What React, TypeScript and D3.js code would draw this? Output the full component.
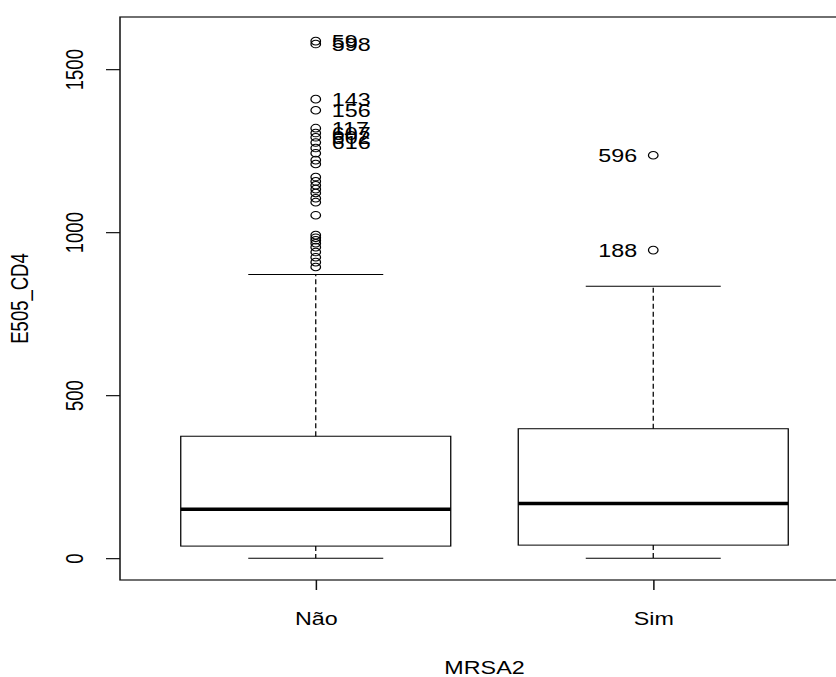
import React, { useEffect, useRef } from "react";
import * as d3 from "d3";

// groups on the x axis
const groups = ["Não", "Sim"];

// box statistics per group (E505_CD4)
const lowerWhisker = [0, 0];
const q1 = [37, 40];
const medians = [150, 168];
const q3 = [374, 397];
const upperWhisker = [870, 834];

// outliers, the labelled ones first
const outliersNao = [
	1586, 1577, 1408, 1374, 1319, 1304, 1291, 1275, 1258, 1242, 1221, 1209, 1169, 1156, 1144,
	1132, 1120, 1104, 1092, 1052, 991, 983, 975, 966, 954, 939, 923, 908, 893,
];
const labelsNao = ["59", "598", "143", "156", "117", "607", "602", "616"];
const outliersSim = [1236, 945];
const labelsSim = ["596", "188"];

const yTicks = [0, 500, 1000, 1500];
const yDomain = [-67, 1660];

const W = 836;
const H = 677;
const SX = 1.26; // the original picture is stretched sideways
const FONT = "'Liberation Sans', Arial, sans-serif";
const FS = 18.5;

const App = () => {
	const svgRef = useRef(null);

	useEffect(() => {
		const svg = d3.select(svgRef.current);
		svg.selectAll("*").remove();

		const x = d3.scaleLinear().domain([0.42, 2.58]).range([120 / SX, 849 / SX]);
		const y = d3.scaleLinear().domain(yDomain).range([580, 17]);
		const tickLen = 14 / SX;

		// plot frame
		svg
			.append("rect")
			.attr("x", x(0.42))
			.attr("y", y(yDomain[1]))
			.attr("width", x(2.58) - x(0.42))
			.attr("height", y(yDomain[0]) - y(yDomain[1]))
			.attr("fill", "none")
			.attr("stroke", "#111")
			.attr("stroke-width", 1.2);

		// y axis
		const yAxis = svg
			.append("g")
			.attr("transform", `translate(${x(0.42)},0)`)
			.call(d3.axisLeft(y).tickValues(yTicks).tickSize(tickLen).tickFormat(d3.format("d")));
		yAxis.select(".domain").remove();
		yAxis.selectAll("line").attr("stroke", "#111").attr("stroke-width", 1.2);
		yAxis
			.selectAll("text")
			.attr("x", null)
			.attr("dy", null)
			.attr("text-anchor", "middle")
			.attr("transform", "translate(-29,0) rotate(-90)")
			.attr("fill", "#000")
			.style("font-family", FONT)
			.style("font-size", `${FS}px`);

		// x axis
		const xAxis = svg
			.append("g")
			.attr("transform", `translate(0,${y(yDomain[0])})`)
			.call(
				d3
					.axisBottom(x)
					.tickValues([1, 2])
					.tickSize(10)
					.tickFormat((d) => groups[d - 1])
			);
		xAxis.select(".domain").remove();
		xAxis.selectAll("line").attr("stroke", "#111").attr("stroke-width", 1.2);
		xAxis
			.selectAll("text")
			.attr("y", 45)
			.attr("dy", null)
			.attr("fill", "#000")
			.style("font-family", FONT)
			.style("font-size", `${FS}px`);

		// axis titles
		svg
			.append("text")
			.attr("x", (x(0.42) + x(2.58)) / 2)
			.attr("y", 674)
			.attr("text-anchor", "middle")
			.style("font-family", FONT)
			.style("font-size", `${FS}px`)
			.text("MRSA2");
		svg
			.append("text")
			.attr("transform", `translate(22.5,${(y(yDomain[0]) + y(yDomain[1])) / 2}) rotate(-90)`)
			.attr("text-anchor", "middle")
			.style("font-family", FONT)
			.style("font-size", `${FS}px`)
			.text("E505_CD4");

		// boxes
		const box = svg.append("g");
		groups.forEach((g, i) => {
			const cx = x(i + 1);
			const bl = x(i + 1 - 0.4);
			const br = x(i + 1 + 0.4);
			const sl = x(i + 1 - 0.2);
			const sr = x(i + 1 + 0.2);

			box
				.append("line")
				.attr("x1", cx)
				.attr("x2", cx)
				.attr("y1", y(q3[i]))
				.attr("y2", y(upperWhisker[i]))
				.attr("stroke", "#000")
				.attr("stroke-dasharray", "5,3");
			box
				.append("line")
				.attr("x1", cx)
				.attr("x2", cx)
				.attr("y1", y(q1[i]))
				.attr("y2", y(lowerWhisker[i]))
				.attr("stroke", "#000")
				.attr("stroke-dasharray", "5,3");
			[upperWhisker[i], lowerWhisker[i]].forEach((v) => {
				box
					.append("line")
					.attr("x1", sl)
					.attr("x2", sr)
					.attr("y1", y(v))
					.attr("y2", y(v))
					.attr("stroke", "#000");
			});
			box
				.append("rect")
				.attr("x", bl)
				.attr("y", y(q3[i]))
				.attr("width", br - bl)
				.attr("height", y(q1[i]) - y(q3[i]))
				.attr("fill", "none")
				.attr("stroke", "#000");
			box
				.append("line")
				.attr("x1", bl)
				.attr("x2", br)
				.attr("y1", y(medians[i]))
				.attr("y2", y(medians[i]))
				.attr("stroke", "#000")
				.attr("stroke-width", 3.5);
		});

		// outliers and their ids
		const outs = [outliersNao, outliersSim];
		const labs = [labelsNao, labelsSim];
		outs.forEach((vals, i) => {
			const cx = x(i + 1);
			box
				.selectAll(null)
				.data(vals)
				.enter()
				.append("circle")
				.attr("cx", cx)
				.attr("cy", (d) => y(d))
				.attr("r", 3.8)
				.attr("fill", "none")
				.attr("stroke", "#000");
			box
				.selectAll(null)
				.data(labs[i])
				.enter()
				.append("text")
				.attr("x", i === 0 ? cx + 16 / SX : cx - 16 / SX)
				.attr("y", (d, j) => y(vals[j]))
				.attr("dy", "0.35em")
				.attr("text-anchor", i === 0 ? "start" : "end")
				.style("font-family", FONT)
				.style("font-size", `${FS}px`)
				.text((d) => d);
		});
	}, []);

	return (
		<svg
			ref={svgRef}
			width={W}
			height={H}
			viewBox={`0 0 ${W / SX} ${H}`}
			preserveAspectRatio="none"
			style={{ position: "absolute", left: 0, top: 0, background: "#fff" }}
		></svg>
	);
};

export default App;
